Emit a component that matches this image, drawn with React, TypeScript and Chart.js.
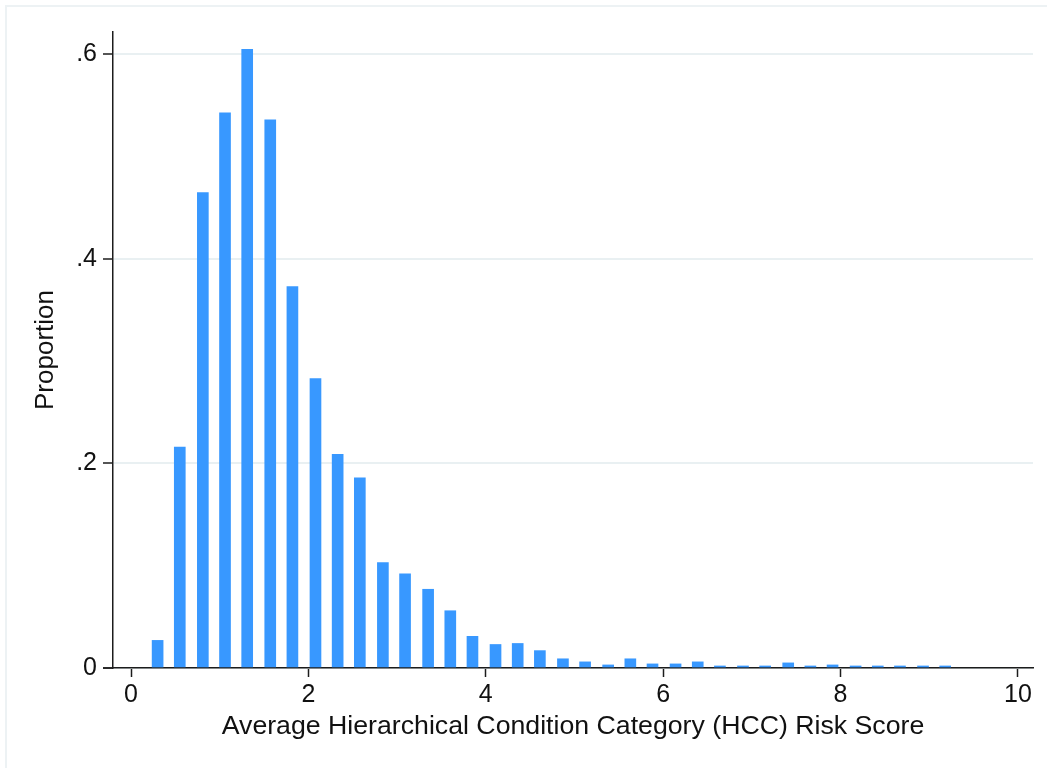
import React, { useEffect, useRef } from 'react';
import { Chart, registerables } from 'chart.js';

Chart.register(...registerables);

// Histogram bin midpoints (risk score) and proportion in each bin
const binCenters = [
  0.30, 0.55, 0.81, 1.06, 1.31, 1.57, 1.82, 2.08, 2.33, 2.58,
  2.84, 3.09, 3.35, 3.60, 3.85, 4.11, 4.36, 4.61, 4.87, 5.12,
  5.38, 5.63, 5.88, 6.14, 6.39, 6.64, 6.90, 7.15, 7.41, 7.66,
  7.91, 8.17, 8.42, 8.67, 8.93, 9.18,
];
const proportions = [
  0.027, 0.216, 0.465, 0.543, 0.605, 0.536, 0.373, 0.283, 0.209, 0.186,
  0.103, 0.092, 0.077, 0.056, 0.031, 0.023, 0.024, 0.017, 0.009, 0.006,
  0.003, 0.009, 0.004, 0.004, 0.006, 0.002, 0.002, 0.002, 0.005, 0.002,
  0.003, 0.002, 0.002, 0.002, 0.002, 0.002,
];
const xTickValues = [0, 2, 4, 6, 8, 10];
const xTickLabels = ['0', '2', '4', '6', '8', '10'];
const yTickValues = [0, 0.2, 0.4, 0.6];
const yTickLabels = ['0', '.2', '.4', '.6'];
const xTitle = 'Average Hierarchical Condition Category (HCC) Risk Score';
const yTitle = 'Proportion';

const FONT = '"Liberation Sans", Arial, Helvetica, sans-serif';
const AXIS_COLOR = '#1c1c1c';
const GRID_COLOR = '#e9f0f2';
const BAR_COLOR = 'rgb(56,152,255)';

const framePlugin = {
  id: 'stataFrame',
  beforeDraw(chart: any) {
    const { ctx, width, height } = chart;
    ctx.save();
    ctx.fillStyle = '#ffffff';
    ctx.fillRect(0, 0, width, height);
    ctx.strokeStyle = '#edf2f4';
    ctx.lineWidth = 2;
    ctx.strokeRect(6, 6, width + 20, height + 20);
    ctx.restore();
  },
  afterDraw(chart: any) {
    const { ctx, chartArea } = chart;
    ctx.save();
    ctx.strokeStyle = AXIS_COLOR;
    ctx.lineWidth = 1.5;
    ctx.beginPath();
    ctx.moveTo(chartArea.left - 10, chartArea.bottom);
    ctx.lineTo(chartArea.left, chartArea.bottom);
    ctx.stroke();
    ctx.restore();
  },
};

export default function App() {
  const canvasRef = useRef<HTMLCanvasElement | null>(null);

  useEffect(() => {
    document.body.style.margin = '0';
    const canvas = canvasRef.current;
    if (!canvas) return;
    const chart = new Chart(canvas, {
      type: 'bar',
      data: {
        datasets: [
          {
            data: binCenters.map((x, i) => ({ x, y: proportions[i] })),
            backgroundColor: BAR_COLOR,
            borderWidth: 0,
            barThickness: 11,
          },
        ],
      },
      plugins: [framePlugin],
      options: {
        responsive: false,
        animation: false,
        devicePixelRatio: 1,
        layout: { padding: { top: 32, left: 0, right: 0, bottom: 0 } },
        plugins: {
          legend: { display: false },
          tooltip: { enabled: false },
        },
        scales: {
          x: {
            type: 'linear',
            offset: false,
            min: -0.203,
            max: 10.17,
            afterBuildTicks: (scale: any) => {
              scale.ticks = xTickValues.map((v) => ({ value: v }));
            },
            afterFit: (scale: any) => {
              scale.height = 100;
              scale.paddingLeft = 0;
              scale.paddingRight = 14;
            },
            ticks: {
              autoSkip: false,
              maxRotation: 0,
              padding: 3,
              color: '#111',
              font: { family: FONT, size: 25 },
              callback: (v: any) => {
                const i = xTickValues.indexOf(Number(v));
                return i >= 0 ? xTickLabels[i] : '';
              },
            },
            grid: {
              offset: false,
              drawOnChartArea: false,
              drawTicks: true,
              tickLength: 9,
              tickColor: AXIS_COLOR,
              tickWidth: 1.5,
            },
            border: { display: true, color: AXIS_COLOR, width: 1.5 },
            title: {
              display: true,
              text: xTitle,
              color: '#111',
              font: { family: FONT, size: 26.7 },
              padding: { top: 0, bottom: 25 },
            },
          },
          y: {
            type: 'linear',
            min: 0,
            max: 0.622,
            afterBuildTicks: (scale: any) => {
              scale.ticks = yTickValues.map((v) => ({ value: v }));
            },
            afterFit: (scale: any) => {
              scale.width = 113;
              scale.paddingTop = 0;
              scale.paddingBottom = 0;
            },
            ticks: {
              autoSkip: false,
              padding: 6,
              color: '#111',
              font: { family: FONT, size: 25 },
              callback: (v: any) => {
                const i = yTickValues.findIndex((t) => Math.abs(t - Number(v)) < 1e-9);
                return i >= 0 ? yTickLabels[i] : '';
              },
            },
            grid: {
              drawOnChartArea: true,
              color: GRID_COLOR,
              lineWidth: 2,
              drawTicks: true,
              tickLength: 10,
              tickColor: AXIS_COLOR,
              tickWidth: 1.5,
            },
            border: { display: true, color: AXIS_COLOR, width: 1.5 },
            title: {
              display: true,
              text: yTitle,
              color: '#111',
              font: { family: FONT, size: 26 },
              padding: { top: 30, bottom: 0 },
            },
          },
        },
      },
    });
    return () => chart.destroy();
  }, []);

  return (
    <div style={{ width: 1047, height: 768 }}>
      <canvas ref={canvasRef} width={1047} height={768} style={{ display: 'block' }} />
    </div>
  );
}
